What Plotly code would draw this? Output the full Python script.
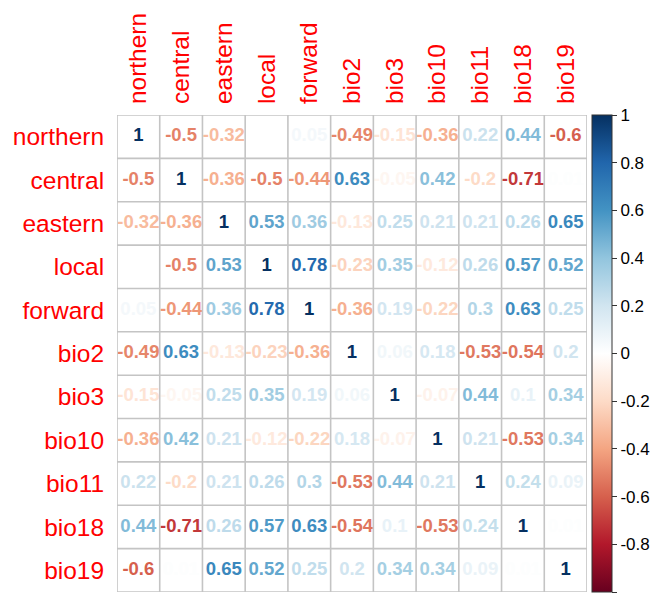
import plotly.graph_objects as go

# Variable names (rows top-to-bottom, columns left-to-right)
labels = ["northern", "central", "eastern", "local", "forward",
          "bio2", "bio3", "bio10", "bio11", "bio18", "bio19"]

# Correlation matrix rows
r_northern = [1, -0.5, -0.32, 0, 0.05, -0.49, -0.15, -0.36, 0.22, 0.44, -0.6]
r_central = [-0.5, 1, -0.36, -0.5, -0.44, 0.63, -0.05, 0.42, -0.2, -0.71, 0.01]
r_eastern = [-0.32, -0.36, 1, 0.53, 0.36, -0.13, 0.25, 0.21, 0.21, 0.26, 0.65]
r_local = [0, -0.5, 0.53, 1, 0.78, -0.23, 0.35, -0.12, 0.26, 0.57, 0.52]
r_forward = [0.05, -0.44, 0.36, 0.78, 1, -0.36, 0.19, -0.22, 0.3, 0.63, 0.25]
r_bio2 = [-0.49, 0.63, -0.13, -0.23, -0.36, 1, 0.06, 0.18, -0.53, -0.54, 0.2]
r_bio3 = [-0.15, -0.05, 0.25, 0.35, 0.19, 0.06, 1, -0.07, 0.44, 0.1, 0.34]
r_bio10 = [-0.36, 0.42, 0.21, -0.12, -0.22, 0.18, -0.07, 1, 0.21, -0.53, 0.34]
r_bio11 = [0.22, -0.2, 0.21, 0.26, 0.3, -0.53, 0.44, 0.21, 1, 0.24, 0.09]
r_bio18 = [0.44, -0.71, 0.26, 0.57, 0.63, -0.54, 0.1, -0.53, 0.24, 1, 0.01]
r_bio19 = [-0.6, 0.01, 0.65, 0.52, 0.25, 0.2, 0.34, 0.34, 0.09, 0.01, 1]

matrix = [r_northern, r_central, r_eastern, r_local, r_forward,
          r_bio2, r_bio3, r_bio10, r_bio11, r_bio18, r_bio19]

colorbar_ticks = [-1, -0.8, -0.6, -0.4, -0.2, 0, 0.2, 0.4, 0.6, 0.8, 1]

# Diverging red-white-blue palette
rdbu = ["#67001F", "#B2182B", "#D6604D", "#F4A582", "#FDDBC7", "#FFFFFF",
        "#D1E5F0", "#92C5DE", "#4393C3", "#2166AC", "#053061"]
n_stops = len(rdbu)
colorscale = [[i / (n_stops - 1), c] for i, c in enumerate(rdbu)]


def hex_to_rgb(h):
    h = h.lstrip("#")
    return tuple(int(h[i:i + 2], 16) for i in (0, 2, 4))


def value_color(v):
    t = (v + 1) / 2 * (n_stops - 1)
    i = min(int(t), n_stops - 2)
    f = t - i
    a, b = hex_to_rgb(rdbu[i]), hex_to_rgb(rdbu[i + 1])
    rgb = [round(a[k] + (b[k] - a[k]) * f) for k in range(3)]
    return "rgb({},{},{})".format(*rgb)


def fmt(v):
    return f"{v:g}"


n = len(labels)
xs, ys, texts, colors = [], [], [], []
for i, row in enumerate(matrix):
    for j, v in enumerate(row):
        xs.append(j)
        ys.append(i)
        texts.append(fmt(v))
        colors.append(value_color(v))

fig = go.Figure()

# Coefficient text in each cell
fig.add_trace(go.Scatter(
    x=xs, y=ys, mode="text", text=texts,
    textfont=dict(family="Liberation Sans, Arial, sans-serif", size=18.5,
                  color=colors, weight="bold"),
    hoverinfo="skip", showlegend=False,
))

# Invisible markers carrying the colour scale for the colour bar
fig.add_trace(go.Scatter(
    x=[0, 0], y=[0, 0], mode="markers",
    marker=dict(size=1, opacity=0, color=[-1, 1], cmin=-1, cmax=1,
                colorscale=colorscale, showscale=True,
                colorbar=dict(
                    x=1.0105, xanchor="left", xpad=0,
                    y=0.5, yanchor="middle", len=1.0, lenmode="fraction",
                    ypad=0, thickness=20,
                    outlinewidth=1, outlinecolor="#333333",
                    tickmode="array", tickvals=colorbar_ticks,
                    ticktext=[fmt(t) for t in colorbar_ticks],
                    ticks="outside", ticklen=5, tickcolor="#333333",
                    tickfont=dict(family="Liberation Sans, Arial, sans-serif",
                                  size=17, color="black"),
                )),
    hoverinfo="skip", showlegend=False,
))

# Cell borders
grid_color = "#c4c4c4"
shapes = []
for k in range(n + 1):
    p = k - 0.5
    shapes.append(dict(type="line", x0=p, x1=p, y0=-0.5, y1=n - 0.5,
                       line=dict(color=grid_color, width=1.6)))
    shapes.append(dict(type="line", x0=-0.5, x1=n - 0.5, y0=p, y1=p,
                       line=dict(color=grid_color, width=1.6)))

label_font = dict(family="Liberation Sans, Arial, sans-serif", size=24.5, color="red")

fig.update_layout(
    width=660, height=601,
    margin=dict(l=117, r=65, t=115, b=9),
    paper_bgcolor="white", plot_bgcolor="white",
    shapes=shapes,
    xaxis=dict(
        range=[-0.5, n - 0.5], side="top",
        tickmode="array", tickvals=list(range(n)), ticktext=labels,
        tickangle=-90, tickfont=label_font,
        ticks="outside", ticklen=5, tickcolor="rgba(0,0,0,0)",
        showgrid=False, zeroline=False, showline=False, fixedrange=True,
    ),
    yaxis=dict(
        range=[n - 0.5, -0.5],
        tickmode="array", tickvals=list(range(n)), ticktext=labels,
        tickfont=label_font,
        ticks="outside", ticklen=7, tickcolor="rgba(0,0,0,0)",
        showgrid=False, zeroline=False, showline=False, fixedrange=True,
    ),
)

fig.write_html("out.html")
